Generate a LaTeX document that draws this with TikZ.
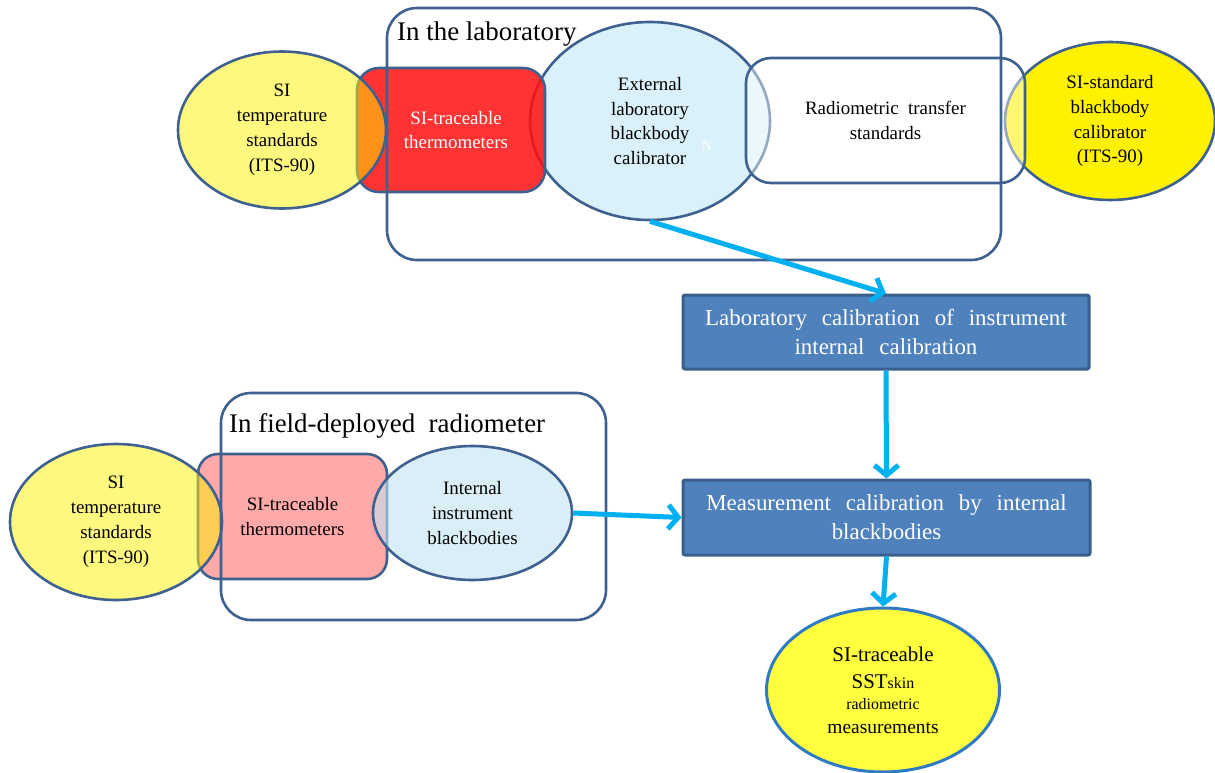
\documentclass[tikz,border=0pt]{standalone}
\usepackage{fontspec}
\setmainfont{Liberation Serif}
\usetikzlibrary{shapes.geometric,arrows.meta}
\definecolor{edge}{HTML}{3F6190}
\definecolor{flowc}{HTML}{00B0F0}
\definecolor{boxfill}{HTML}{4F81BD}
\definecolor{boxedge}{HTML}{3A5F8B}
\definecolor{redc}{HTML}{FF0F0F}
\definecolor{pinkc}{HTML}{FFA9A9}
\definecolor{skyc}{HTML}{DAF1FB}
\definecolor{skyt}{HTML}{C1E3F3}
\definecolor{skinfill}{HTML}{FFFF3F}
\definecolor{skinedge}{HTML}{2E7BC4}
\begin{document}
\begin{tikzpicture}[x=1bp,y=-1bp,
  outl/.style={draw=edge,line width=2.6bp},
  ell/.style={ellipse,outl,inner sep=0pt},
  rbox/.style={rectangle,outl,inner sep=0pt},
  lbl/.style={align=center,font=\fontsize{19}{25}\selectfont},
  halfyellow/.style={fill=yellow,fill opacity=0.5,text opacity=1},
  title/.style={font=\fontsize{27}{30}\selectfont,anchor=base west,inner sep=0pt},
  flowbox/.style={rectangle,draw=boxedge,fill=boxfill,line width=3bp,text=white,
    inner sep=0pt,rounded corners=2bp,align=center,
    font={\fontsize{23}{29}\selectfont\spaceskip=0.65em\relax}},
  flow/.style={draw=flowc,line width=5bp,-{Straight Barb[length=10bp,width=24bp]}}
]
\useasboundingbox (0,0) rectangle (1215,773);

% ---------- laboratory chain ----------
\node[ell,fill=skyc,lbl,minimum width=240bp,minimum height=198bp] (extbb) at (650,121)
  {External\\laboratory\\blackbody\\calibrator};
\node[rbox,rounded corners=22bp,fill=redc,fill opacity=0.85,text opacity=1,text=white,lbl,
  minimum width=188bp,minimum height=124bp] (labtherm) at (451,130)
  {\hspace*{10bp}SI-traceable\\\hspace*{10bp}thermometers};
\node[ell,halfyellow,lbl,minimum width=208bp,minimum height=157bp] (labits) at (282,130)
  {SI\\temperature\\standards\\(ITS-90)};
\node[ell,fill=yellow,lbl,minimum width=210bp,minimum height=158bp] (stdbb) at (1110,121)
  {SI-standard\\blackbody\\calibrator\\(ITS-90)};
\node[rbox,rounded corners=25bp,fill=white,fill opacity=0.45,text opacity=1,lbl,
  minimum width=279bp,minimum height=125bp] (transfer) at (885.5,120.5)
  {Radiometric\ \ transfer\\standards};
\node[text=white,font=\fontsize{14}{14}\selectfont] (nmark) at (707,146) {N};
\node[rbox,rounded corners=30bp,minimum width=614bp,minimum height=252bp] (labframe) at (694,134) {};
\node[title] (labtitle) at (397,41) {In the laboratory};

% ---------- field instrument chain ----------
\node[rbox,rounded corners=20bp,fill=pinkc,lbl,minimum width=189bp,minimum height=125bp]
  (fieldtherm) at (292.5,516.5) {SI-traceable\\thermometers};
\node[ell,halfyellow,lbl,minimum width=212bp,minimum height=156bp] (fieldits) at (116,522)
  {SI\\temperature\\standards\\(ITS-90)};
\node[ell,fill=skyt,fill opacity=0.6,text opacity=1,lbl,minimum width=199bp,minimum height=134bp]
  (intbb) at (472.5,513) {Internal\\instrument\\blackbodies};
\node[rbox,rounded corners=30bp,minimum width=385bp,minimum height=227bp] (fieldframe) at (413.5,506.5) {};
\node[title] (fieldtitle) at (229,432) {In field-deployed\ \ radiometer};

% ---------- calibration flow ----------
\node[flowbox,minimum width=406bp,minimum height=74bp] (labcal) at (886,332)
  {Laboratory calibration of instrument\\internal calibration};
\node[flowbox,minimum width=407bp,minimum height=75bp] (meascal) at (886.5,517.5)
  {Measurement calibration by internal\\blackbodies};
\node[ellipse,draw=skinedge,line width=3bp,fill=skinfill,inner sep=0pt,align=center,
  font=\fontsize{21}{24}\selectfont,
  minimum width=233bp,minimum height=164bp] (skin) at (883,690)
  {SI-traceable\\[3bp]
   SST{\fontsize{16}{16}\selectfont skin}\\[-3bp]
   {\fontsize{16}{16}\selectfont radiometric}\\[0bp]
   {\fontsize{19.5}{19.5}\selectfont measurements}};

\draw[flow] (extbb.south) -- (labcal.north);
\draw[flow] (labcal.south) -- (meascal.north);
\draw[flow] (meascal.south) -- (skin.north);
\draw[flow] (intbb.east) -- (meascal.west);
\end{tikzpicture}
\end{document}
